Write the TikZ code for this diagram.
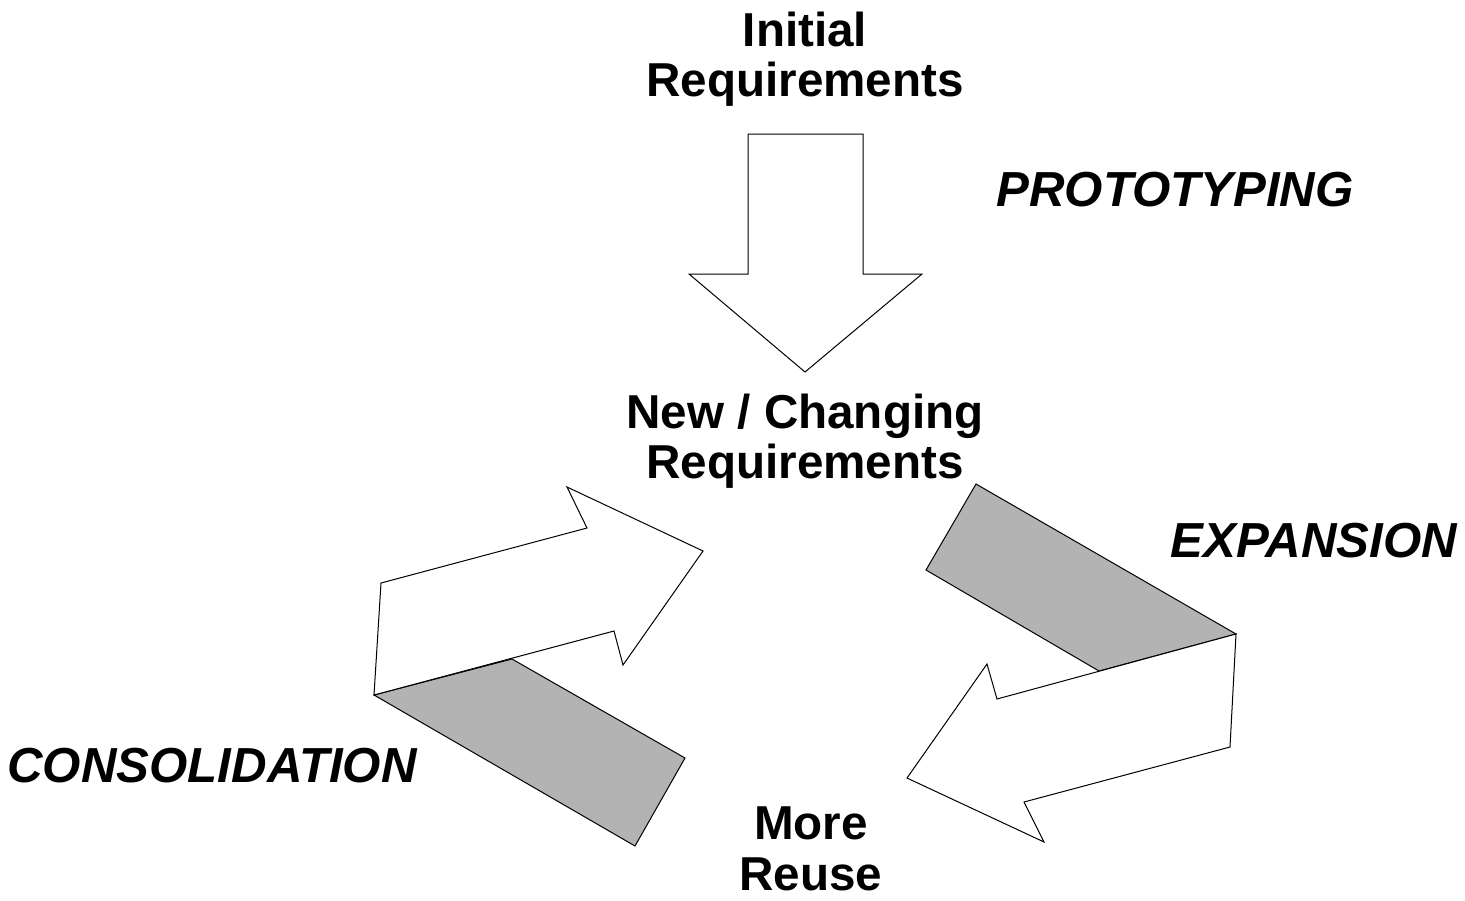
\documentclass[tikz,border=0pt]{standalone}
\usepackage{fontspec}
\setmainfont{Liberation Sans}
\definecolor{foldgray}{RGB}{179,179,179}
\begin{document}
\begin{tikzpicture}[x=0.5pt,y=-0.5pt,line width=0.5pt,line join=miter,
  reqtext/.style={font=\fontsize{23.8}{25.2}\selectfont\bfseries,align=center,inner sep=0pt},
  phasetext/.style={font=\fontsize{24.6}{26}\selectfont\bfseries\itshape,inner sep=0pt}]
  \useasboundingbox (0,0) rectangle (1465,900);
  \draw[fill=white] (748,134)--(863,134)--(863,274)--(922,274)--(805,372)--(689,274)--(748,274)--cycle;
  \draw[fill=foldgray] (374,695)--(512,659)--(685,758)--(635,846)--cycle;
  \draw[fill=white] (374,695)--(381,583)--(587,528)--(567,487)--(703,551)--(623,665)--(614,631)--cycle;
  \draw[fill=foldgray] (976,484)--(1236,634)--(1099,671)--(926,570)--cycle;
  \draw[fill=white] (1236,634)--(1230,747)--(1024,802)--(1044,842)--(907,778)--(987,664)--(997,699)--cycle;
  \node[reqtext] (initial) at (805,59) {Initial\\Requirements};
  \node[reqtext] (changing) at (805,441) {New / Changing\\Requirements};
  \node[reqtext] (reuse) at (811,849) {More\\Reuse};
  \node[phasetext] (proto) at (1175,190) {PROTOTYPING};
  \node[phasetext] (expand) at (1314,541) {EXPANSION};
  \node[phasetext] (consol) at (212,766) {CONSOLIDATION};
\end{tikzpicture}
\end{document}
